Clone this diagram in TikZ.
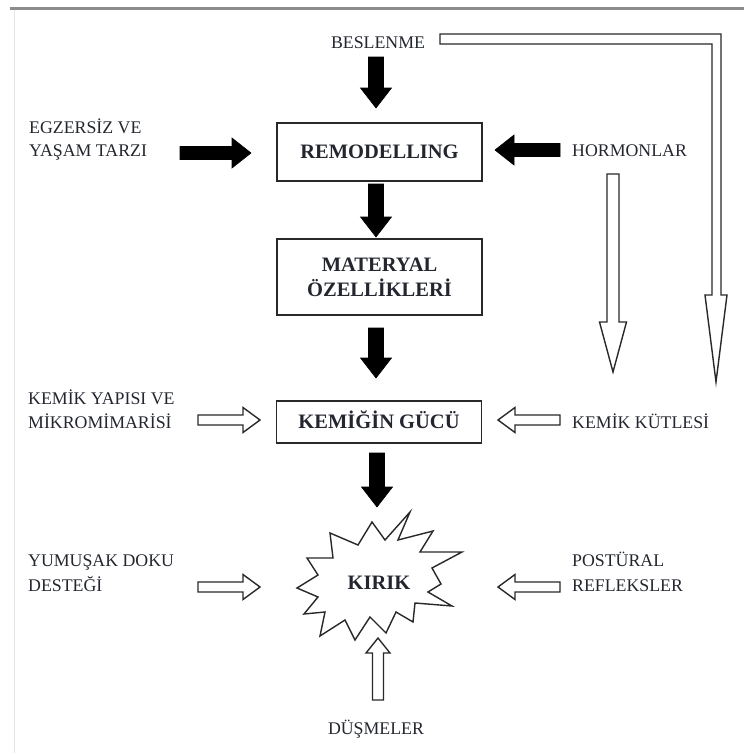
\documentclass[tikz,border=0pt]{standalone}
\usepackage{fontspec}
\setmainfont{Liberation Serif}
\definecolor{txt}{RGB}{35,38,46}
\definecolor{edge}{RGB}{40,40,40}
\tikzset{
  ba len/.store in=\balen, ba shaft/.store in=\bashaft,
  ba head/.store in=\bahead, ba hlen/.store in=\bahlen,
  ba len=50, ba shaft=15, ba head=31, ba hlen=20,
  pics/blockarrow/.style={code={
    \path[pic actions] (0,-\bashaft/2) -- ({\balen-\bahlen},-\bashaft/2)
      -- ({\balen-\bahlen},-\bahead/2) -- (\balen,0)
      -- ({\balen-\bahlen},\bahead/2) -- ({\balen-\bahlen},\bashaft/2)
      -- (0,\bashaft/2) -- cycle;
  }},
  blackarrow/.style={fill=black, draw=black, line width=0.6pt, line join=miter},
  whitearrow/.style={fill=white, draw=edge, line width=1.4pt, line join=miter,
    ba shaft=10, ba head=25, ba hlen=17},
  lbl/.style={font=\fontsize{17.8}{24}\selectfont, text=txt, inner sep=0pt, anchor=base west},
  ctr/.style={font=\fontsize{17.8}{24}\selectfont, text=txt, inner sep=0pt, anchor=base},
  boxnode/.style={draw=edge, line width=1.6pt, minimum width=205pt,
    font=\bfseries\fontsize{20.5}{25}\selectfont, text=txt, align=center, inner sep=0pt}
}
\begin{document}
\begin{tikzpicture}[x=1pt,y=-1pt]
\useasboundingbox (0,0) rectangle (744,753);
% page edges
\draw[line width=3pt, color=black!45] (10,8.5) -- (744,8.5);
\draw[line width=0.8pt, color=black!10] (14,10) -- (14,753);

% boxes
\node[boxnode, minimum height=58pt, text height=13.6pt, text depth=0pt] (remodel) at (379.5,152) {REMODELLING};
\node[boxnode, minimum height=76pt] (materyal) at (379.5,277) {MATERYAL\\ÖZELLİKLERİ};
\node[boxnode, minimum height=42pt, text height=13.6pt, text depth=0pt] (guc) at (379,422) {KEMİĞİN GÜCÜ};

% starburst
\draw[line width=1.4pt, color=edge, line join=miter, fill=white]
  (410,512) -- (398,540) -- (433,531) -- (420,552) -- (462,552) -- (432,568)
  -- (441,584) -- (428,592) -- (452,606) -- (415,603) -- (413,622) -- (396,612)
  -- (386,633) -- (370,617) -- (355,640) -- (345,620) -- (320,636) -- (325,612)
  -- (304,614) -- (318,597) -- (297,588) -- (318,575) -- (307,558) -- (333,558)
  -- (330,533) -- (358,545) -- (372,522) -- (385,540) -- cycle;
\node[font=\bfseries\fontsize{20.5}{25}\selectfont, text=txt, inner sep=0pt, anchor=base] (kirik) at (379,589) {KIRIK};

% labels
\node[ctr] (beslenme) at (378,48) {BESLENME};
\node[lbl] (egz1) at (29,133) {EGZERSİZ VE};
\node[lbl] (egz2) at (29,156) {YAŞAM TARZI};
\node[lbl] (hormon) at (572,156) {HORMONLAR};
\node[lbl] (yapi1) at (28,404) {KEMİK YAPISI VE};
\node[lbl] (yapi2) at (28,428) {MİKROMİMARİSİ};
\node[lbl] (kutle) at (572,428) {KEMİK KÜTLESİ};
\node[lbl] (yum1) at (28,566) {YUMUŞAK DOKU};
\node[lbl] (yum2) at (28,591) {DESTEĞİ};
\node[lbl] (post1) at (572,566) {POSTÜRAL};
\node[lbl] (post2) at (572,591) {REFLEKSLER};
\node[ctr] (dusme) at (376,734) {DÜŞMELER};

% black arrows
\pic[blackarrow, ba len=51, rotate=-90] at (376,57) {blockarrow};
\pic[blackarrow, ba len=53, rotate=-90] at (376,184) {blockarrow};
\pic[blackarrow, ba len=50, rotate=-90] at (376,328) {blockarrow};
\pic[blackarrow, ba len=54, rotate=-90] at (377,453) {blockarrow};
\pic[blackarrow, ba len=71, ba shaft=13, ba head=30, ba hlen=19] at (180,153) {blockarrow};
\pic[blackarrow, ba len=65, ba shaft=13, ba head=30, ba hlen=19, rotate=180] at (560,150) {blockarrow};

% white arrows
\pic[whitearrow, ba len=62] at (198,420) {blockarrow};
\pic[whitearrow, ba len=62, rotate=180] at (560,420) {blockarrow};
\pic[whitearrow, ba len=62] at (198,587) {blockarrow};
\pic[whitearrow, ba len=62, rotate=180] at (560,587) {blockarrow};
\pic[whitearrow, ba len=62, ba shaft=11, ba head=24, ba hlen=15, rotate=90] at (378,700) {blockarrow};
\pic[whitearrow, ba len=198, ba shaft=12, ba head=27, ba hlen=50, rotate=-90] at (613,174) {blockarrow};

% L-shaped arrow from BESLENME
\draw[line width=1.4pt, color=edge, fill=white, line join=miter]
  (440,34) -- (721,34) -- (721,295) -- (727,295) -- (716,382) -- (705,295)
  -- (712,295) -- (712,44) -- (440,44) -- cycle;
\end{tikzpicture}
\end{document}
